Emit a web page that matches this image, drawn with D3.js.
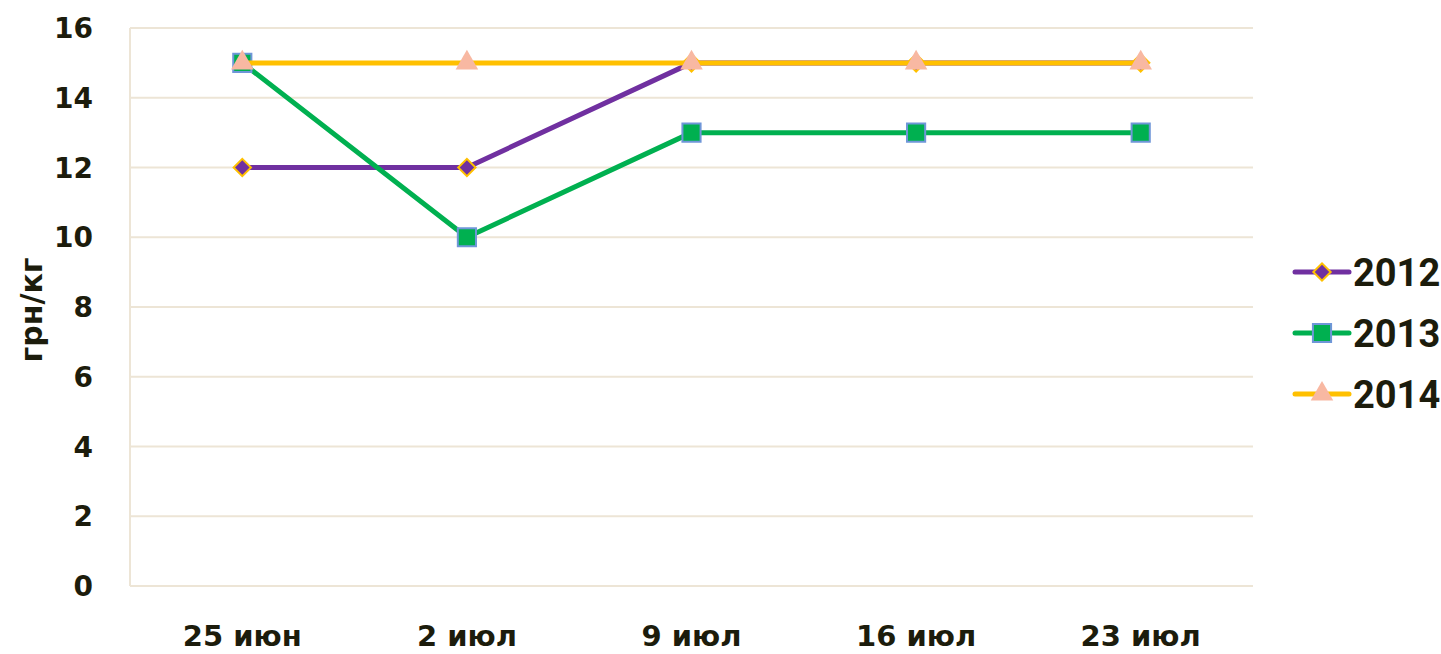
<!DOCTYPE html>
<html>
<head>
<meta charset="utf-8">
<script src="https://cdn.jsdelivr.net/npm/d3@7"></script>
<style>
  body { margin: 0; background: #fff; }
  svg { display: block; font-family: "DejaVu Sans", sans-serif; font-weight: bold; }
</style>
</head>
<body>
<script>
var categories = ["25 июн", "2 июл", "9 июл", "16 июл", "23 июл"];
var values2012 = [12, 12, 15, 15, 15];
var values2013 = [15, 10, 13, 13, 13];
var values2014 = [15, 15, 15, 15, 15];
var yTicks = [0, 2, 4, 6, 8, 10, 12, 14, 16];

var series = [
    { name: "2012", values: values2012, color: "#7030a0", symbol: d3.symbolSquare, rotate: 45, fill: "#7030a0", stroke: "#ffc000", size: 150 },
    { name: "2013", values: values2013, color: "#00b050", symbol: d3.symbolSquare, rotate: 0, fill: "#00b050", stroke: "#6f96d8", size: 330 },
    { name: "2014", values: values2014, color: "#ffc000", symbol: d3.symbolTriangle, rotate: 0, fill: "#f8b8a2", stroke: "none", size: 220 }
];

var width = 1441, height = 654;
var margin = { left: 130, right: 188, top: 28, bottom: 68 };

var svg = d3.select("body").append("svg")
    .attr("width", width)
    .attr("height", height);

var x = d3.scaleBand()
    .domain(categories)
    .range([margin.left, width - margin.right])
    .padding(0);

var y = d3.scaleLinear()
    .domain([0, 16])
    .range([height - margin.bottom, margin.top]);

var textColor = "#1c1c0c";
var gridColor = "#ede5d6";

// gridlines
svg.append("g")
    .selectAll("line")
    .data(yTicks.slice(1))
    .enter().append("line")
    .attr("x1", margin.left)
    .attr("x2", width - margin.right)
    .attr("y1", function (d) { return y(d); })
    .attr("y2", function (d) { return y(d); })
    .attr("stroke", gridColor)
    .attr("stroke-width", 2);

// axis lines
svg.append("line")
    .attr("x1", margin.left).attr("x2", margin.left)
    .attr("y1", y(16)).attr("y2", y(0))
    .attr("stroke", gridColor).attr("stroke-width", 2);
svg.append("line")
    .attr("x1", margin.left).attr("x2", width - margin.right)
    .attr("y1", y(0)).attr("y2", y(0))
    .attr("stroke", gridColor).attr("stroke-width", 2);

// y tick labels
svg.append("g")
    .selectAll("text")
    .data(yTicks)
    .enter().append("text")
    .attr("x", 93)
    .attr("y", function (d) { return y(d); })
    .attr("dy", "0.36em")
    .attr("text-anchor", "end")
    .attr("font-size", 28)
    .attr("fill", textColor)
    .text(function (d) { return d; });

// x labels
svg.append("g")
    .selectAll("text")
    .data(categories)
    .enter().append("text")
    .attr("x", function (d) { return x(d) + x.bandwidth() / 2; })
    .attr("y", 636)
    .attr("dy", "0.36em")
    .attr("text-anchor", "middle")
    .attr("font-size", 29)
    .attr("fill", textColor)
    .text(function (d) { return d; });

// y axis title
svg.append("text")
    .attr("transform", "translate(31," + 310 + ") rotate(-90)")
    .attr("dy", "0.36em")
    .attr("text-anchor", "middle")
    .attr("font-size", 30)
    .attr("fill", textColor)
    .text("грн/кг");

var line = d3.line()
    .x(function (d, i) { return x(categories[i]) + x.bandwidth() / 2; })
    .y(function (d) { return y(d); });

series.forEach(function (s) {
    var g = svg.append("g");
    g.append("path")
        .datum(s.values)
        .attr("d", line)
        .attr("fill", "none")
        .attr("stroke", s.color)
        .attr("stroke-width", 5)
        .attr("stroke-linejoin", "round");
    g.selectAll("path.marker")
        .data(s.values)
        .enter().append("path")
        .attr("class", "marker")
        .attr("d", d3.symbol().type(s.symbol).size(s.size))
        .attr("transform", function (d, i) {
            return "translate(" + (x(categories[i]) + x.bandwidth() / 2) + "," + y(d) + ") rotate(" + s.rotate + ")";
        })
        .attr("fill", s.fill)
        .attr("stroke", s.stroke)
        .attr("stroke-width", 2);
});

// legend
var legend = svg.append("g")
    .selectAll("g")
    .data(series)
    .enter().append("g")
    .attr("transform", function (d, i) { return "translate(1295," + (272 + i * 61) + ")"; });

legend.append("line")
    .attr("x1", 0).attr("x2", 54)
    .attr("stroke", function (d) { return d.color; })
    .attr("stroke-width", 5)
    .attr("stroke-linecap", "round");

legend.append("path")
    .attr("d", function (d) { return d3.symbol().type(d.symbol).size(d.size)(); })
    .attr("transform", function (d) { return "translate(27,0) rotate(" + d.rotate + ")"; })
    .attr("fill", function (d) { return d.fill; })
    .attr("stroke", function (d) { return d.stroke; })
    .attr("stroke-width", 2);

legend.append("text")
    .attr("x", 58)
    .attr("dy", "0.36em")
    .attr("font-family", "Roboto, sans-serif")
    .attr("font-size", 38)
    .attr("fill", textColor)
    .text(function (d) { return d.name; });
</script>
</body>
</html>
